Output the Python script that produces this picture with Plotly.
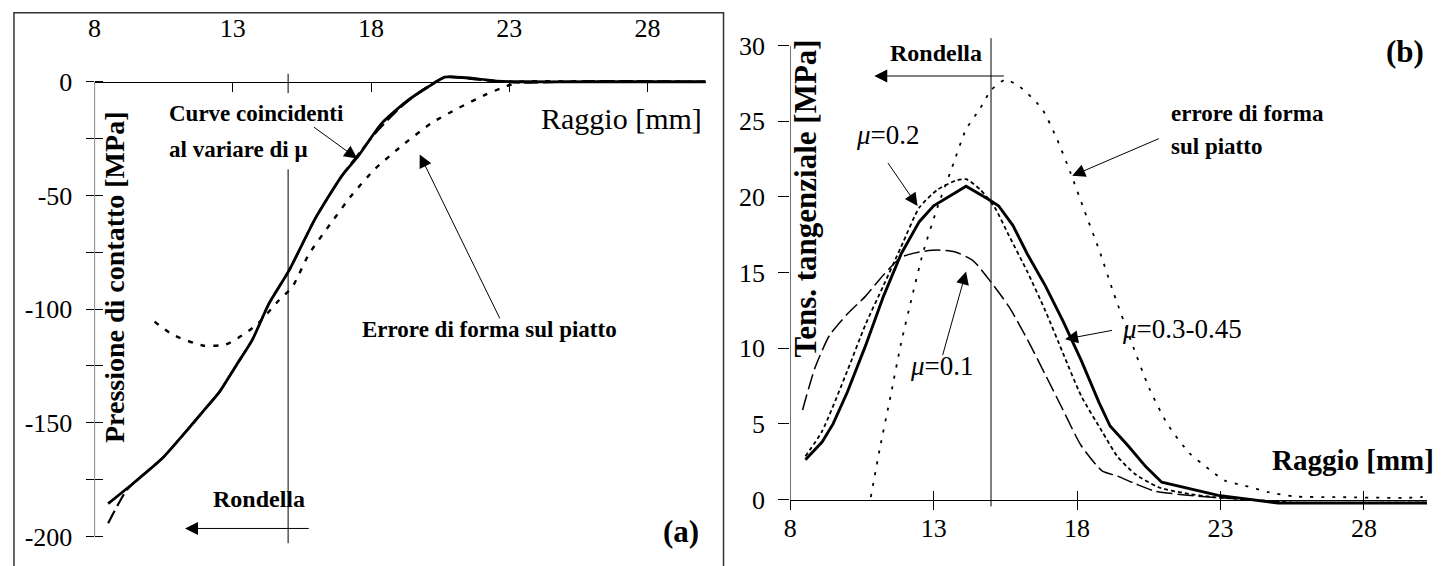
import plotly.graph_objects as go

# ---------------- data: panel (a) contact pressure ----------------
a_x_solid = [8.49, 9.51, 10.47, 11.31, 11.91, 12.51, 13.11, 13.71, 14.31, 15.03, 15.99, 16.95, 17.54,
             18.39, 19.34, 20.06, 20.66, 20.9, 21.86, 22.58, 23.5, 26.0, 30.1]
a_y_solid = [-185.6, -175.5, -165.4, -153.8, -145.2, -136.5, -125.0, -113.4, -97.5, -83.1, -60.0, -41.3,
             -32.6, -18.2, -8.1, -2.3, 2.0, 2.1, 1.3, 0.3, 0.0, 0.0, 0.0]
a_x_dash = [8.49, 9.15, 9.6, 10.47, 11.31, 11.91, 12.51, 13.11, 13.71, 14.31, 15.03, 15.99, 16.95, 17.6,
            18.2, 19.0, 19.7, 20.4, 20.75, 21.8, 22.6, 23.5, 26.0, 30.1]
a_y_dash = [-194.2, -179.8, -174.5, -165.4, -153.8, -145.2, -136.5, -125.0, -113.4, -97.5, -83.1, -60.0,
            -41.3, -31.0, -22.0, -12.0, -5.0, 0.5, 2.2, 1.0, 0.2, -0.4, 0.3, 0.0]
a_x_err = [10.17, 10.83, 11.91, 12.75, 13.47, 13.9, 14.67, 15.15, 15.75, 16.59, 17.3, 18.14, 19.1, 20.18,
           21.14, 22.1, 22.82, 23.4, 26.0, 30.1]
a_y_err = [-105.5, -111.3, -116.0, -115.6, -110.5, -106.5, -96.1, -90.3, -75.9, -61.5, -49.9, -38.4,
           -28.3, -18.2, -11.7, -5.9, -2.3, 0.0, 0.0, 0.0]

# ---------------- data: panel (b) tangential stress ----------------
b_x_mu03 = [8.53, 9.11, 9.49, 9.99, 10.62, 11.25, 11.87, 12.5, 13.0, 13.63, 14.13, 14.88, 15.26, 15.76,
            16.26, 16.89, 17.51, 18.14, 18.77, 19.15, 19.77, 20.4, 20.95, 22.92, 24.08, 25.0, 30.2]
b_y_mu03 = [2.63, 3.8, 4.98, 7.09, 10.14, 13.43, 16.25, 18.37, 19.42, 20.13, 20.71, 19.89, 19.42, 18.13,
            16.25, 14.14, 11.79, 9.21, 6.39, 4.86, 3.57, 2.16, 1.14, 0.27, 0.0, -0.23, -0.23]
b_x_mu02 = [8.53, 9.11, 9.99, 10.62, 11.25, 11.87, 12.5, 13.13, 13.75, 14.13, 14.63, 15.13, 15.63, 16.26,
            16.89, 17.51, 18.14, 18.87, 19.4, 20.02, 20.84, 21.8, 22.8, 24.0, 25.5, 30.2]
b_y_mu02 = [2.86, 4.51, 8.5, 11.55, 14.14, 16.72, 19.3, 20.48, 21.07, 21.18, 20.48, 19.3, 17.43, 15.08,
            12.49, 9.67, 6.86, 4.5, 2.86, 1.69, 0.81, 0.4, 0.15, 0.0, -0.2, -0.2]
b_x_mu01 = [8.43, 8.87, 9.37, 9.99, 10.62, 11.25, 11.87, 12.5, 13.13, 13.75, 14.38, 15.0, 15.63, 16.26,
            16.89, 17.51, 18.14, 18.87, 19.4, 20.02, 20.72, 22.6, 24.0, 25.0, 30.2]
b_y_mu01 = [5.92, 8.74, 10.85, 12.26, 13.43, 14.84, 16.02, 16.37, 16.49, 16.37, 15.78, 14.37, 12.73, 10.61,
            8.26, 5.92, 3.57, 1.9, 1.55, 1.05, 0.55, 0.16, 0.0, -0.2, -0.2]
b_x_err = [10.81, 11.12, 11.5, 11.87, 12.25, 12.62, 13.13, 13.63, 14.13, 14.63, 15.0, 15.5, 16.0, 16.76,
           17.26, 17.76, 18.26, 18.77, 19.27, 19.9, 20.52, 21.15, 21.9, 22.65, 23.15, 23.84, 24.66, 25.57,
           27.0, 30.0, 30.2]
b_y_err = [0.16, 3.33, 6.86, 10.38, 13.43, 16.25, 19.3, 21.89, 24.47, 25.88, 27.06, 27.76, 27.29, 25.88,
           24.0, 21.65, 19.07, 16.49, 13.67, 10.38, 7.33, 4.98, 3.1, 1.93, 1.25, 0.92, 0.49, 0.2, 0.16,
           0.16, 0.35]

x_ticks = [8, 13, 18, 23, 28]
a_y_ticks = [-200, -150, -100, -50, 0]
a_y_ticktext = ["-200", "-150", "-100", "-50", "0"]
b_y_ticks = [0, 5, 10, 15, 20, 25, 30]

# ---------------- geometry (pixels of the 1448x566 page) ----------------
W, H = 1448, 566
FONT = "Liberation Serif, Times New Roman, serif"


def py(p):  # pixel y -> paper fraction
    return 1 - p / H


fig = go.Figure()
K = "black"
SPL = dict(shape="spline", smoothing=0.6)

# panel (a)
fig.add_trace(go.Scatter(x=a_x_err, y=a_y_err, mode="lines", xaxis="x", yaxis="y",
                         line=dict(color=K, width=2.4, dash="5px,8px", **SPL)))
fig.add_trace(go.Scatter(x=a_x_dash, y=a_y_dash, mode="lines", xaxis="x", yaxis="y",
                         line=dict(color=K, width=2.2, dash="14px,5px", **SPL)))
fig.add_trace(go.Scatter(x=a_x_solid, y=a_y_solid, mode="lines", xaxis="x", yaxis="y",
                         line=dict(color=K, width=2.8, **SPL)))
# panel (b)
fig.add_trace(go.Scatter(x=b_x_err, y=b_y_err, mode="lines", xaxis="x2", yaxis="y2",
                         line=dict(color=K, width=1.8, dash="3px,8px", **SPL)))
fig.add_trace(go.Scatter(x=b_x_mu01, y=b_y_mu01, mode="lines", xaxis="x2", yaxis="y2",
                         line=dict(color=K, width=1.5, dash="16px,5px", **SPL)))
fig.add_trace(go.Scatter(x=b_x_mu02, y=b_y_mu02, mode="lines", xaxis="x2", yaxis="y2",
                         line=dict(color=K, width=1.8, dash="4px,3px", **SPL)))
fig.add_trace(go.Scatter(x=b_x_mu03, y=b_y_mu03, mode="lines", xaxis="x2", yaxis="y2",
                         line=dict(color=K, width=2.9)))
# invisible traces so overlay tick axes are drawn
fig.add_trace(go.Scatter(x=[8], y=[-400], mode="markers", xaxis="x", yaxis="y3",
                         marker=dict(opacity=0), hoverinfo="skip"))
fig.add_trace(go.Scatter(x=[8], y=[-40], mode="markers", xaxis="x3", yaxis="y2",
                         marker=dict(opacity=0), hoverinfo="skip"))

tickfont = dict(family=FONT, size=26, color=K)

# panel (a): x 8 -> px 88, 27.8 px/unit ; y 0 -> px 78, 2.31 px/unit
a_px_per = 2.31
a_yr = [-205, 5]
a_dom = [py(78 - a_yr[0] * a_px_per), py(78 - a_yr[1] * a_px_per)]
# panel (b): x 8 -> px 787, 28.8 px/unit ; y 0 -> px 502.5, 15.37 px/unit
b_px_per = 15.37
b_yr = [-0.8, 30.6]
b_dom = [py(502.5 - b_yr[0] * b_px_per), py(502.5 - b_yr[1] * b_px_per)]

fig.update_layout(
    width=W, height=H, margin=dict(l=0, r=0, t=0, b=0),
    paper_bgcolor="white", plot_bgcolor="white", showlegend=False,
    font=dict(family=FONT, color=K),
    xaxis=dict(domain=[88 / W, 702 / W], range=[8, 30.1], anchor="free", position=py(78), side="top",
               tickvals=x_ticks, ticks="inside", ticklen=9, tickcolor=K, showline=True, linecolor=K,
               linewidth=1, showgrid=False, zeroline=False, tickfont=tickfont, ticklabelstandoff=34),
    yaxis=dict(domain=a_dom, range=a_yr, anchor="x", tickvals=a_y_ticks, ticktext=a_y_ticktext,
               ticks="outside", ticklen=8, tickcolor=K, showline=False, showgrid=False, zeroline=False,
               tickfont=tickfont, ticklabelstandoff=8,
               minor=dict(ticks="outside", ticklen=8, tickcolor=K, dtick=25, tick0=0, showgrid=False)),
    yaxis3=dict(overlaying="y", range=a_yr, anchor="x", tickvals=a_y_ticks, ticks="inside", ticklen=8,
                tickcolor=K, showline=False, showgrid=False, zeroline=False, showticklabels=False,
                minor=dict(ticks="inside", ticklen=8, tickcolor=K, dtick=25, tick0=0, showgrid=False)),
    xaxis2=dict(domain=[787 / W, 1427 / W], range=[8, 30.2], anchor="free", position=py(502.5),
                side="bottom", tickvals=x_ticks, ticks="outside", ticklen=9, tickcolor=K, showline=True,
                linecolor=K, linewidth=1, showgrid=False, zeroline=False, tickfont=tickfont,
                ticklabelstandoff=-4),
    xaxis3=dict(overlaying="x2", range=[8, 30.2], anchor="free", position=py(502.5), tickvals=x_ticks[1:],
                ticks="inside", ticklen=9, tickcolor=K, showline=False, showgrid=False, zeroline=False,
                showticklabels=False),
    yaxis2=dict(domain=b_dom, range=b_yr, anchor="x2", tickvals=b_y_ticks, ticks="outside", ticklen=11,
                tickcolor=K, showline=False, showgrid=False, zeroline=False, tickfont=tickfont,
                ticklabelstandoff=8),
)

line1 = dict(color=K, width=1)
shapes = [
    # frame of panel (a)
    dict(type="rect", xref="paper", yref="paper", x0=7 / W, x1=720 / W, y0=-0.05, y1=py(8),
         line=dict(color="#333333", width=1.5)),
    # y axis lines
    dict(type="line", xref="x", yref="y", x0=8, x1=8, y0=-200, y1=0, line=line1),
    dict(type="line", xref="x2", yref="y2", x0=8, x1=8, y0=-0.45, y1=30, line=line1),
    # washer edge lines (r = 15 mm)
    dict(type="line", xref="x", yref="y", x0=15, x1=15, y0=-5, y1=3.5, line=line1),
    dict(type="line", xref="x", yref="y", x0=15, x1=15, y0=-203, y1=-38.5, line=line1),
    dict(type="line", xref="x2", yref="y2", x0=15, x1=15, y0=-0.45, y1=30.5, line=line1),
]
fig.update_layout(shapes=shapes)


def txt(x, y, s, xr, yr, size=23, bold=True, xanchor="center", angle=0):
    t = f"<b>{s}</b>" if bold else s
    fig.add_annotation(x=x, y=y, xref=xr, yref=yr, text=t, showarrow=False, xanchor=xanchor,
                       yanchor="middle", textangle=angle, font=dict(family=FONT, size=size, color=K))


def arrow(x0, y0, x1, y1, xr, yr, size=2.6):
    fig.add_annotation(x=x1, y=y1, ax=x0, ay=y0, xref=xr, yref=yr, axref=xr, ayref=yr, text="",
                       showarrow=True, arrowhead=2, arrowsize=size, arrowwidth=1, arrowcolor=K,
                       standoff=0, startstandoff=0)


# panel (a) texts
txt(10.63, -13.9, "Curve coincidenti", "x", "y", xanchor="left")
txt(10.63, -29.9, "al variare di μ", "x", "y", xanchor="left")
arrow(15.88, -19.5, 17.5, -33.8, "x", "y")
txt(22.3, -109, "Errore di forma sul piatto", "x", "y")
arrow(22.68, -104.7, 19.76, -32.0, "x", "y")
txt(27.06, -16, "Raggio [mm]", "x", "y", size=30, bold=False)
txt(13.93, -183.5, "Rondella", "x", "y", size=24)
arrow(15.8, -196.5, 11.27, -196.5, "x", "y")
txt(29.22, -197.8, "(a)", "x", "y", size=31)
txt(8.72, -85.7, "Pressione di contatto [MPa]", "x", "y", size=28, angle=-90)

# panel (b) texts
txt(13.07, 29.5, "Rondella", "x2", "y2", size=24)
arrow(15.5, 28.0, 10.93, 28.0, "x2", "y2")
txt(29.42, 29.63, "(b)", "x2", "y2", size=31)
txt(21.19, 25.54, "errore di forma", "x2", "y2", xanchor="left")
txt(21.19, 23.32, "sul piatto", "x2", "y2", xanchor="left")
arrow(20.9, 23.9, 17.83, 21.4, "x2", "y2")
txt(11.4, 24.1, "<i>μ</i>=0.2", "x2", "y2", size=27, bold=False)
arrow(11.37, 22.35, 12.44, 19.4, "x2", "y2")
txt(13.28, 8.85, "<i>μ</i>=0.1", "x2", "y2", size=27, bold=False)
arrow(13.3, 9.45, 14.13, 15.07, "x2", "y2")
txt(21.65, 11.3, "<i>μ</i>=0.3-0.45", "x2", "y2", size=27, bold=False)
arrow(19.27, 11.2, 17.58, 10.6, "x2", "y2")
txt(27.6, 2.63, "Raggio [mm]", "x2", "y2", size=29)
txt(8.52, 19.9, "Tens. tangenziale [MPa]", "x2", "y2", size=31, angle=-90)

fig.write_html("out.html")
